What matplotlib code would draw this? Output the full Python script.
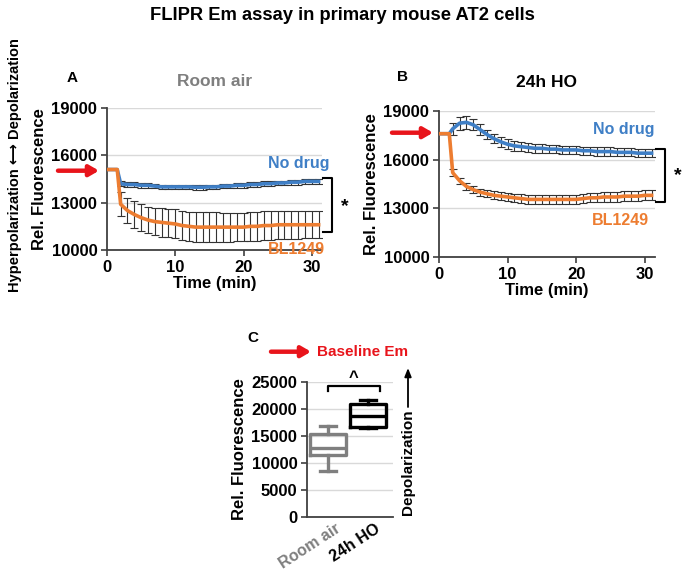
import matplotlib
matplotlib.use('Agg')
import matplotlib.pyplot as plt
from matplotlib.transforms import ScaledTranslation

plt.rcParams['font.family'] = ['Liberation Sans', 'DejaVu Sans']
plt.rcParams['font.weight'] = 'bold'

BLUE = '#3f7fc6'
ORANGE = '#ed7d31'
GRAY = '#7f7f7f'
RED = '#e8141b'

# time points (min)
t_base = [0, 0.5, 1.0, 1.5]
t_rec = list(range(2, 32))

# Panel A - room air
a_base = [15100, 15100, 15100, 15100]
a_nodrug = [14200, 14150, 14150, 14100, 14100, 14050, 14000, 14000, 14000, 14000,
            14000, 13980, 13980, 14000, 14000, 14050, 14050, 14100, 14100, 14150,
            14150, 14200, 14200, 14250, 14250, 14300, 14300, 14350, 14350, 14350]
a_nodrug_err = [150] * 30
a_bl = [12900, 12500, 12250, 12050, 11900, 11800, 11750, 11700, 11650, 11550,
        11500, 11450, 11450, 11450, 11450, 11450, 11450, 11450, 11450, 11500,
        11500, 11550, 11550, 11600, 11600, 11600, 11600, 11600, 11600, 11600]
a_bl_err = [750, 800, 850, 850, 850, 880, 900, 900, 920, 930,
            940, 940, 940, 940, 930, 920, 920, 900, 900, 900,
            900, 900, 900, 900, 880, 880, 880, 870, 870, 870]

# Panel B - 24h HO
b_base = [17600, 17600, 17600, 17600]
b_nodrug = [17900, 18250, 18300, 18150, 17850, 17550, 17300, 17100, 16950, 16850,
            16800, 16750, 16700, 16700, 16650, 16650, 16600, 16600, 16600, 16550,
            16550, 16500, 16500, 16500, 16450, 16450, 16450, 16400, 16400, 16400]
b_nodrug_err = [350, 400, 400, 350, 350, 300, 300, 300, 300, 300,
                280, 280, 280, 280, 260, 260, 260, 260, 250, 250,
                250, 250, 250, 250, 250, 250, 250, 250, 250, 250]
b_bl = [15200, 14700, 14350, 14150, 14000, 13900, 13800, 13750, 13700, 13650,
        13600, 13550, 13550, 13550, 13550, 13550, 13550, 13550, 13550, 13600,
        13650, 13650, 13700, 13700, 13700, 13750, 13750, 13750, 13800, 13800]
b_bl_err = [200, 200, 200, 200, 220, 220, 240, 240, 250, 250,
            260, 260, 270, 270, 270, 270, 280, 280, 280, 280,
            290, 290, 300, 300, 300, 300, 300, 300, 300, 300]

# Panel C - baseline Em box plot
c_labels = ['Room air', '24h HO']
c_colors = [GRAY, 'black']
c_stats = [
    dict(whislo=8500, q1=11500, med=12700, q3=15300, whishi=16800),
    dict(whislo=16500, q1=16700, med=18700, q3=20900, whishi=21600),
]

W, H = 685, 571
fig = plt.figure(figsize=(W / 100, H / 100), dpi=100)


def box(l, t, r, b):
    return [l / W, 1 - b / H, (r - l) / W, (b - t) / H]


def px(x, y):
    return (x, H - y)


def style(ax):
    for s in ['top', 'right']:
        ax.spines[s].set_visible(False)
    for s in ['left', 'bottom']:
        ax.spines[s].set_color('#404040')
        ax.spines[s].set_linewidth(1.3)
    ax.yaxis.grid(True, color='#d9d9d9', lw=1)
    ax.set_axisbelow(True)
    ax.tick_params(labelsize=12, length=4, width=1.2, color='#404040', pad=3)
    for lab in ax.get_xticklabels() + ax.get_yticklabels():
        lab.set_fontweight('bold')


def trace(ax, base, vals, err, color):
    ax.errorbar(t_rec, vals, yerr=err, fmt='none', ecolor='#333333',
                elinewidth=0.8, capsize=3, capthick=0.8, zorder=2)
    ax.plot(t_base + t_rec, base + vals, color=color, lw=2.6, zorder=3)


def time_panel(ax, base, nd, nd_err, bl, bl_err):
    trace(ax, base, nd, nd_err, BLUE)
    trace(ax, base, bl, bl_err, ORANGE)
    ax.set_xlim(0, 31.5)
    ax.set_ylim(10000, 19000)
    ax.set_yticks([10000, 13000, 16000, 19000])
    ax.set_xticks([0, 10, 20, 30])
    style(ax)
    ax.set_ylabel('Rel. Fluorescence', fontsize=12, fontweight='bold', labelpad=3)
    ax.set_xlabel('Time (min)', fontsize=12, fontweight='bold', labelpad=1)


# ---- A
axA = fig.add_axes(box(107, 108, 322, 250))
time_panel(axA, a_base, a_nodrug, a_nodrug_err, a_bl, a_bl_err)
axA.set_title('Room air', color=GRAY, fontsize=12.5, fontweight='bold', pad=16)
axA.text(28.1, 15470, 'No drug', color=BLUE, fontsize=11.5, fontweight='bold',
         ha='center', va='center')
axA.text(27.7, 10050, 'BL1249', color=ORANGE, fontsize=11.5, fontweight='bold',
         ha='center', va='center')

# ---- B
axB = fig.add_axes(box(439, 111, 655, 257))
time_panel(axB, b_base, b_nodrug, b_nodrug_err, b_bl, b_bl_err)
axB.set_title('24h HO', color='black', fontsize=12.5, fontweight='bold', pad=17)
axB.text(26.9, 17850, 'No drug', color=BLUE, fontsize=11.5, fontweight='bold',
         ha='center', va='center')
axB.text(26.4, 12235, 'BL1249', color=ORANGE, fontsize=11.5, fontweight='bold',
         ha='center', va='center')

# ---- C
axC = fig.add_axes(box(307, 382, 393, 517))
for i, (st, col) in enumerate(zip(c_stats, c_colors)):
    axC.bxp([st], positions=[i + 1], widths=0.92, showfliers=False,
            boxprops=dict(color=col, lw=2.4), medianprops=dict(color=col, lw=2.4),
            whiskerprops=dict(color=col, lw=2.4), capprops=dict(color=col, lw=2.4),
            capwidths=0.4)
axC.set_xlim(0.475, 2.625)
axC.set_ylim(0, 25000)
axC.set_yticks(range(0, 25001, 5000))
axC.set_xticks([1, 2])
axC.set_xticklabels(c_labels, rotation=33, ha='right', va='top')
style(axC)
axC.tick_params(axis='x', length=0, pad=3)
shift = ScaledTranslation(0.15, 0, fig.dpi_scale_trans)
for lab, col in zip(axC.get_xticklabels(), c_colors):
    lab.set_color(col)
    lab.set_fontsize(11.5)
    lab.set_transform(lab.get_transform() + shift)
axC.set_ylabel('Rel. Fluorescence', fontsize=12, fontweight='bold', labelpad=3)
axC.plot([1, 1, 2.3, 2.3], [23300, 24200, 24200, 23300], color='black', lw=1.6, clip_on=False)
axC.text(1.65, 24400, '^', fontsize=12, fontweight='bold', ha='center', va='bottom')

# ---- figure texts
fig.text(0.5, 1 - 16 / H, 'FLIPR Em assay in primary mouse AT2 cells',
         ha='center', va='center', fontsize=13.2, fontweight='bold')
fig.text(72 / W, 1 - 78 / H, 'A', fontsize=11, fontweight='bold', ha='center', va='center')
fig.text(402 / W, 1 - 77 / H, 'B', fontsize=11, fontweight='bold', ha='center', va='center')
fig.text(253 / W, 1 - 338 / H, 'C', fontsize=11, fontweight='bold', ha='center', va='center')

fig.text(15 / W, 1 - 165 / H, 'Hyperpolarization \u27f7 Depolarization', rotation=90,
         ha='center', va='center', fontsize=10.5, fontweight='bold')

# red baseline arrows
arrow = dict(arrowstyle='-|>,head_length=0.55,head_width=0.32', color=RED, lw=3.2,
             shrinkA=0, shrinkB=0)
for (x0, x1, y) in [(58, 99, 170.7), (392, 433, 132.7), (271, 311, 351.7)]:
    axA.annotate('', xy=px(x1, y), xytext=px(x0, y), xycoords='figure pixels',
                 textcoords='figure pixels', arrowprops=arrow, annotation_clip=False)
fig.text(317 / W, 1 - 352 / H, 'Baseline Em', color=RED, fontsize=11,
         fontweight='bold', ha='left', va='center')

# significance brackets
for (xb, y0, y1, xs, ys) in [(332, 178, 232, 345, 207), (665, 149, 202, 678, 176)]:
    xs_ = [xb - 9, xb, xb, xb - 9]
    ys_ = [y0, y0, y1, y1]
    fig.add_artist(plt.Line2D([x / W for x in xs_], [1 - y / H for y in ys_],
                              color='black', lw=1.5))
    fig.text(xs / W, 1 - ys / H, '*', fontsize=14, fontweight='bold', ha='center', va='center')

# Depolarization arrow beside panel C
fig.text(408 / W, 1 - 515 / H, 'Depolarization', rotation=90, ha='center', va='bottom',
         fontsize=11, fontweight='bold')
axC.annotate('', xy=px(408, 368), xytext=px(408, 407), xycoords='figure pixels',
             textcoords='figure pixels', annotation_clip=False,
             arrowprops=dict(arrowstyle='-|>,head_length=0.5,head_width=0.2', color='black',
                             lw=1.3, shrinkA=0, shrinkB=0))

fig.savefig('out.png', dpi=100)
